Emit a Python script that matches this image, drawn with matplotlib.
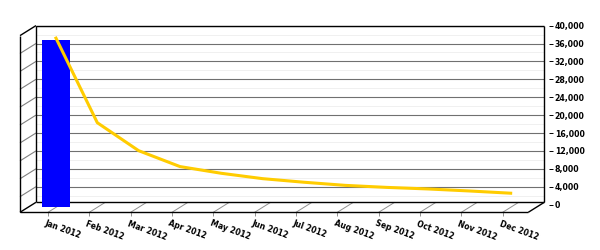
import numpy as np
import matplotlib
matplotlib.use("Agg")
import matplotlib.pyplot as plt
from matplotlib.lines import Line2D
from matplotlib.ticker import FuncFormatter
from matplotlib.transforms import offset_copy, IdentityTransform


months = ["Jan 2012", "Feb 2012", "Mar 2012", "Apr 2012", "May 2012", "Jun 2012",
          "Jul 2012", "Aug 2012", "Sep 2012", "Oct 2012", "Nov 2012", "Dec 2012"]
bar_values = [37400, np.nan, np.nan, np.nan, np.nan, np.nan,
              np.nan, np.nan, np.nan, np.nan, np.nan, np.nan]
line_values = [37800, 18900, 12650, 9100, 7600, 6400,
               5600, 4900, 4450, 4100, 3650, 3150]
y_ticks = [0, 4000, 8000, 12000, 16000, 20000, 24000, 28000, 32000, 36000, 40000]
y_minor = [2000, 6000, 10000, 14000, 18000, 22000, 26000, 30000, 34000, 38000]

# fake 3d: depth of the floor in pixels (x right, y up)
DEPTH = np.array([-16.0, -10.0])
MID = np.array([-8.0, -2.7])
FLOOR = np.array([0.0, 2.3])


def seg(ax, base, p0, p1, d0, d1, color="black", lw=1.0, z=1.5):
    """line between two points given in 'base' coords plus a pixel offset"""
    a = base.transform(p0) + d0
    b = base.transform(p1) + d1
    ax.add_line(Line2D([a[0], b[0]], [a[1], b[1]], transform=IdentityTransform(),
                       color=color, lw=lw, zorder=z, clip_on=False,
                       solid_capstyle="butt"))


def main():
    fig = plt.figure(figsize=(6, 2.5), dpi=100)
    ax = fig.add_axes([36 / 600, (250 - 204.6) / 250, (544.3 - 36) / 600, 179 / 250])
    x = np.arange(len(months))
    ax.set_xlim(-0.677, 11.62)
    ax.set_ylim(0, 40000)

    for s in ax.spines.values():
        s.set_visible(False)
    ax.set_xticks([])
    ax.set_yticks(y_ticks)
    ax.set_yticks(y_minor, minor=True)
    ax.yaxis.tick_right()
    ax.spines["right"].set_position(("outward", 3.4))
    ax.yaxis.set_major_formatter(FuncFormatter(lambda v, p: "{:,.0f}".format(v)))
    ax.tick_params(axis="y", which="major", length=3.2, width=0.7, pad=1,
                   labelsize=5.6, colors="black")
    ax.tick_params(axis="y", which="minor", length=0)
    for lab in ax.get_yticklabels():
        lab.set_fontweight("bold")
    ax.set_axisbelow(True)
    ax.grid(axis="y", which="major", color="#707070", lw=0.8)
    ax.grid(axis="y", which="minor", color="#f0f0f0", lw=0.7)
    ax.yaxis.get_major_ticks()[0].gridline.set_visible(False)

    fig.canvas.draw()
    ta = ax.transAxes
    ty = ax.get_yaxis_transform()
    tx = ax.get_xaxis_transform()

    # back wall + floor + left wall outline
    seg(ax, ta, (0, 1), (1, 1), 0, 0)
    seg(ax, ta, (0, 1), (0, 0), 0, FLOOR)
    seg(ax, ta, (1, 1), (1, 0), 0, FLOOR)
    seg(ax, ta, (0, 0), (1, 0), FLOOR, FLOOR)
    seg(ax, ta, (0, 0), (1, 0), FLOOR + DEPTH, FLOOR + DEPTH)
    seg(ax, ta, (1, 0), (1, 0), FLOOR, FLOOR + DEPTH)
    seg(ax, ta, (0, 1), (0, 1), 0, DEPTH)
    seg(ax, ta, (0, 0), (0, 0), FLOOR, FLOOR + DEPTH)
    seg(ax, ta, (0, 1), (0, 0), DEPTH, FLOOR + DEPTH)

    # grid lines carried on the left wall
    for v in y_ticks[1:-1]:
        seg(ax, ty, (0, v), (0, v), 0, DEPTH, color="#808080", lw=0.8, z=1)

    # category lines on the floor, ticks and labels
    for i, m in zip(x, months):
        seg(ax, tx, (i, 0), (i, 0), FLOOR, FLOOR + DEPTH, color="#909090", lw=0.7, z=1)
        seg(ax, tx, (i, 0), (i, 0), FLOOR + DEPTH, FLOOR + DEPTH + [0, -4],
            color="#909090", lw=0.7, z=1)
        ax.text(i, 0, m, transform=offset_copy(tx, fig, x=-17.5, y=-14.4, units="dots"),
                rotation=-20, rotation_mode="anchor", ha="left", va="top",
                fontsize=5.6, fontweight="bold", color="black")

    # data, drawn half way into the depth
    mid = offset_copy(ax.transData, fig, x=MID[0], y=MID[1], units="dots")
    ax.bar(x, bar_values, width=0.7, color="#0000ff", transform=mid,
           clip_on=False, zorder=2)
    ax.plot(x, line_values, color="#ffcc00", lw=2.2, transform=mid,
            clip_on=False, zorder=3, solid_joinstyle="round")

    fig.savefig("out.png", dpi=100, facecolor="white")


if __name__ == "__main__":
    main()
